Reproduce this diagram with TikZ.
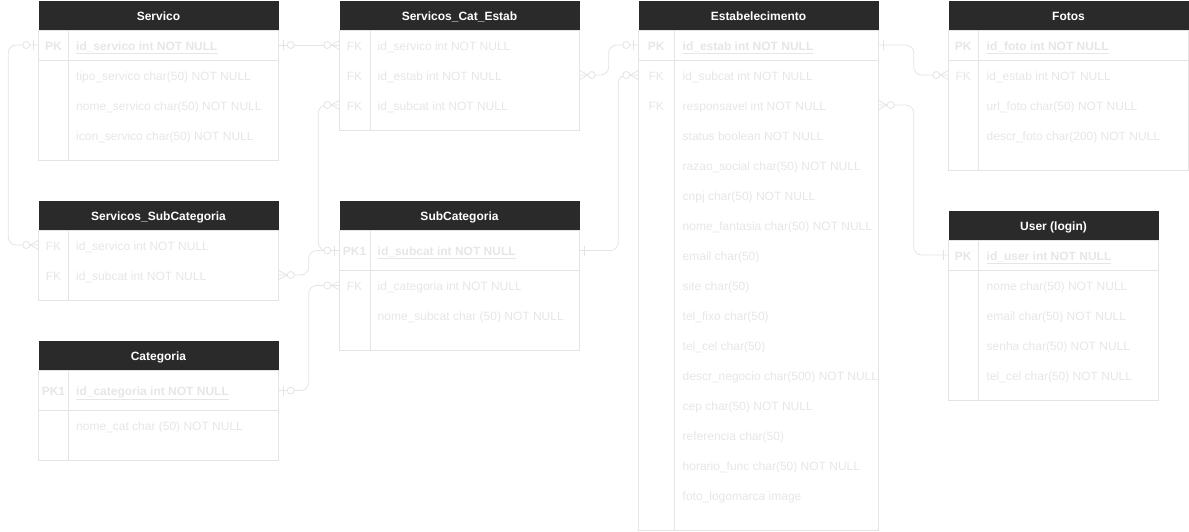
\documentclass[tikz,border=0pt]{standalone}
\usepackage{fontspec}
\setmainfont{Liberation Sans}
\definecolor{hdrfill}{HTML}{2A2A2A}
\definecolor{tblline}{HTML}{E4E4E4}
\definecolor{fldtext}{HTML}{E6E6E6}
\tikzset{
  tblhead/.style={fill=hdrfill, text=white, font=\fontsize{12}{14}\selectfont\bfseries,
    minimum width=240pt, minimum height=29.5pt, inner sep=0pt, text height=10pt, text depth=0pt},
  tbl/.style={draw=tblline, line width=0.8pt},
  fld/.style={anchor=west, text=fldtext, font=\fontsize{12}{14}\selectfont, inner sep=0pt,
    text height=10.5pt, text depth=0.5pt},
  keyf/.style={text=fldtext, font=\fontsize{12}{14}\selectfont,
    minimum width=30pt, inner sep=0pt, text height=10.5pt, text depth=0.5pt},
  conn/.style={draw=tblline, line width=0.8pt},
  pics/mone/.style={code={\draw[conn] (4.5,-5) -- (4.5,5);}},
  pics/mzeroone/.style={code={\draw[conn] (4.5,-5) -- (4.5,5);
    \draw[conn, fill=white] (12,0) circle (3.5);}},
  pics/mzeromany/.style={code={\draw[conn] (0,-4.5) -- (8,0) -- (0,4.5);
    \draw[conn, fill=white] (12,0) circle (3.5);}},
}
\begin{document}
\begin{tikzpicture}[x=1pt,y=-1pt]
  \useasboundingbox (0,0) rectangle (1189,531);

  \node[tblhead] (servico) at (158.5,15.5) {Servico};
  \draw[tbl] (servico.south west) rectangle (278.5,160);
  \draw[tbl] (68,30.25) -- (68,160);
  \draw[tbl] (38.5,60) -- (278.5,60);
  \node[keyf] (servico-pk) at (53.5,45) {\textbf{PK}};
  \node[fld] (servico-id) at (76,45) {\textbf{\underline{id\_servico int NOT NULL}}};
  \node[fld] (servico-tipo) at (76,75) {tipo\_servico char(50) NOT NULL};
  \node[fld] (servico-nome) at (76,105) {nome\_servico char(50) NOT NULL};
  \node[fld] (servico-icon) at (76,135) {icon\_servico char(50) NOT NULL};

  \node[tblhead] (catestab) at (459.5,15.5) {Servicos\_Cat\_Estab};
  \draw[tbl] (catestab.south west) rectangle (579.5,130);
  \draw[tbl] (370,30.25) -- (370,130);
  \node[keyf] (catestab-k1) at (354.5,45) {FK};
  \node[keyf] (catestab-k2) at (354.5,75) {FK};
  \node[keyf] (catestab-k3) at (354.5,105) {FK};
  \node[fld] (catestab-serv) at (377.5,45) {id\_servico int NOT NULL};
  \node[fld] (catestab-estab) at (377.5,75) {id\_estab int NOT NULL};
  \node[fld] (catestab-sub) at (377.5,105) {id\_subcat int NOT NULL};

  \node[tblhead] (estab) at (758.5,15.5) {Estabelecimento};
  \draw[tbl] (estab.south west) rectangle (878.5,530);
  \draw[tbl] (674,30.25) -- (674,530);
  \draw[tbl] (638.5,60) -- (878.5,60);
  \node[keyf, minimum width=35.5pt] (estab-pk) at (656.25,45) {\textbf{PK}};
  \node[keyf, minimum width=35.5pt] (estab-k2) at (656.25,75) {FK};
  \node[keyf, minimum width=35.5pt] (estab-k3) at (656.25,105) {FK};
  \node[fld] (estab-id) at (682.5,45) {\textbf{\underline{id\_estab int NOT NULL}}};
  \node[fld] (estab-sub) at (682.5,75) {id\_subcat int NOT NULL};
  \node[fld] (estab-resp) at (682.5,105) {responsavel int NOT NULL};
  \node[fld] (estab-status) at (682.5,135) {status boolean NOT NULL};
  \node[fld] (estab-razao) at (682.5,165) {razao\_social char(50) NOT NULL};
  \node[fld] (estab-cnpj) at (682.5,195) {cnpj char(50) NOT NULL};
  \node[fld] (estab-fant) at (682.5,225) {nome\_fantasia char(50) NOT NULL};
  \node[fld] (estab-email) at (682.5,255) {email char(50)};
  \node[fld] (estab-site) at (682.5,285) {site char(50)};
  \node[fld] (estab-fixo) at (682.5,315) {tel\_fixo char(50)};
  \node[fld] (estab-cel) at (682.5,345) {tel\_cel char(50)};
  \node[fld] (estab-descr) at (682.5,375) {descr\_negocio char(500) NOT NULL};
  \node[fld] (estab-cep) at (682.5,405) {cep char(50) NOT NULL};
  \node[fld] (estab-ref) at (682.5,435) {referencia char(50)};
  \node[fld] (estab-hor) at (682.5,465) {horario\_func char(50) NOT NULL};
  \node[fld] (estab-logo) at (682.5,495) {foto\_logomarca image};

  \node[tblhead] (fotos) at (1068.5,15.5) {Fotos};
  \draw[tbl] (fotos.south west) rectangle (1188.5,170);
  \draw[tbl] (978,30.25) -- (978,170);
  \draw[tbl] (948.5,60) -- (1188.5,60);
  \node[keyf, minimum width=29.5pt] (fotos-pk) at (963.25,45) {\textbf{PK}};
  \node[keyf, minimum width=29.5pt] (fotos-k2) at (963.25,75) {FK};
  \node[fld] (fotos-id) at (986.5,45) {\textbf{\underline{id\_foto int NOT NULL}}};
  \node[fld] (fotos-estab) at (986.5,75) {id\_estab int NOT NULL};
  \node[fld] (fotos-url) at (986.5,105) {url\_foto char(50) NOT NULL};
  \node[fld] (fotos-descr) at (986.5,135) {descr\_foto char(200) NOT NULL};

  \node[tblhead, minimum width=210pt] (user) at (1053.5,225.5) {User (login)};
  \draw[tbl] (user.south west) rectangle (1158.5,400);
  \draw[tbl] (978,240.25) -- (978,400);
  \draw[tbl] (948.5,270) -- (1158.5,270);
  \node[keyf, minimum width=29.5pt] (user-pk) at (963.25,255) {\textbf{PK}};
  \node[fld] (user-id) at (986.5,255) {\textbf{\underline{id\_user int NOT NULL}}};
  \node[fld] (user-nome) at (986.5,285) {nome char(50) NOT NULL};
  \node[fld] (user-email) at (986.5,315) {email char(50) NOT NULL};
  \node[fld] (user-senha) at (986.5,345) {senha char(50) NOT NULL};
  \node[fld] (user-cel) at (986.5,375) {tel\_cel char(50) NOT NULL};

  \node[tblhead] (sersub) at (158.5,215.5) {Servicos\_SubCategoria};
  \draw[tbl] (sersub.south west) rectangle (278.5,300);
  \draw[tbl] (68,230.25) -- (68,300);
  \node[keyf] (sersub-k1) at (53.5,245) {FK};
  \node[keyf] (sersub-k2) at (53.5,275) {FK};
  \node[fld] (sersub-serv) at (76,245) {id\_servico int NOT NULL};
  \node[fld] (sersub-sub) at (76,275) {id\_subcat int NOT NULL};

  \node[tblhead] (subcat) at (459.5,215.5) {SubCategoria};
  \draw[tbl] (subcat.south west) rectangle (579.5,350);
  \draw[tbl] (370,230.25) -- (370,350);
  \draw[tbl] (339.5,270.5) -- (579.5,270.5);
  \node[keyf] (subcat-pk) at (354.5,250.5) {\textbf{PK1}};
  \node[keyf] (subcat-k2) at (354.5,285.5) {FK};
  \node[fld] (subcat-id) at (377.5,250.5) {\textbf{\underline{id\_subcat int NOT NULL}}};
  \node[fld] (subcat-cat) at (377.5,285.5) {id\_categoria int NOT NULL};
  \node[fld] (subcat-nome) at (377.5,315.5) {nome\_subcat char (50) NOT NULL};

  \node[tblhead] (categoria) at (158.5,355.5) {Categoria};
  \draw[tbl] (categoria.south west) rectangle (278.5,460);
  \draw[tbl] (68,370.25) -- (68,460);
  \draw[tbl] (38.5,410.5) -- (278.5,410.5);
  \node[keyf] (categoria-pk) at (53.5,390.5) {\textbf{PK1}};
  \node[fld] (categoria-id) at (76,390.5) {\textbf{\underline{id\_categoria int NOT NULL}}};
  \node[fld] (categoria-nome) at (76,425.5) {nome\_cat char (50) NOT NULL};

  \draw[conn, rounded corners=8pt] (servico-pk.west) -- ++(-30,0) |- (sersub-k1.west);
  \draw[conn] (servico.east |- servico-pk) -- (catestab-k1.west);
  \draw[conn, rounded corners=8pt] (catestab-k3.west) -- ++(-21,0) |- (subcat-pk.west);
  \draw[conn, rounded corners=8pt] (sersub.east |- sersub-k2) -- ++(30,0) |- (subcat-pk.west);
  \draw[conn, rounded corners=8pt] (categoria.east |- categoria-pk) -- ++(30,0) |- (subcat-k2.west);
  \draw[conn, rounded corners=8pt] (catestab.east |- catestab-k2) -- ++(29,0) |- (estab-pk.west);
  \draw[conn, rounded corners=8pt] (estab-k2.west) -- ++(-20,0) |- (subcat.east |- subcat-pk);
  \draw[conn, rounded corners=8pt] (estab.east |- estab-pk) -- ++(35,0) |- (fotos-k2.west);
  \draw[conn, rounded corners=8pt] (estab.east |- estab-k3) -- ++(35,0) |- (user-pk.west);

  \pic[xscale=-1] at (servico-pk.west) {mzeroone};
  \pic[xscale=-1] at (sersub-k1.west) {mzeromany};
  \pic at (servico.east |- servico-pk) {mzeroone};
  \pic[xscale=-1] at (catestab-k1.west) {mzeromany};
  \pic[xscale=-1] at (catestab-k3.west) {mzeromany};
  \pic[xscale=-1] at (subcat-pk.west) {mzeroone};
  \pic at (sersub.east |- sersub-k2) {mzeromany};
  \pic at (categoria.east |- categoria-pk) {mzeroone};
  \pic[xscale=-1] at (subcat-k2.west) {mzeromany};
  \pic at (catestab.east |- catestab-k2) {mzeromany};
  \pic[xscale=-1] at (estab-pk.west) {mzeroone};
  \pic[xscale=-1] at (estab-k2.west) {mzeromany};
  \pic at (subcat.east |- subcat-pk) {mone};
  \pic at (estab.east |- estab-pk) {mone};
  \pic[xscale=-1] at (fotos-k2.west) {mzeromany};
  \pic at (estab.east |- estab-k3) {mzeromany};
  \pic[xscale=-1] at (user-pk.west) {mone};
\end{tikzpicture}
\end{document}
